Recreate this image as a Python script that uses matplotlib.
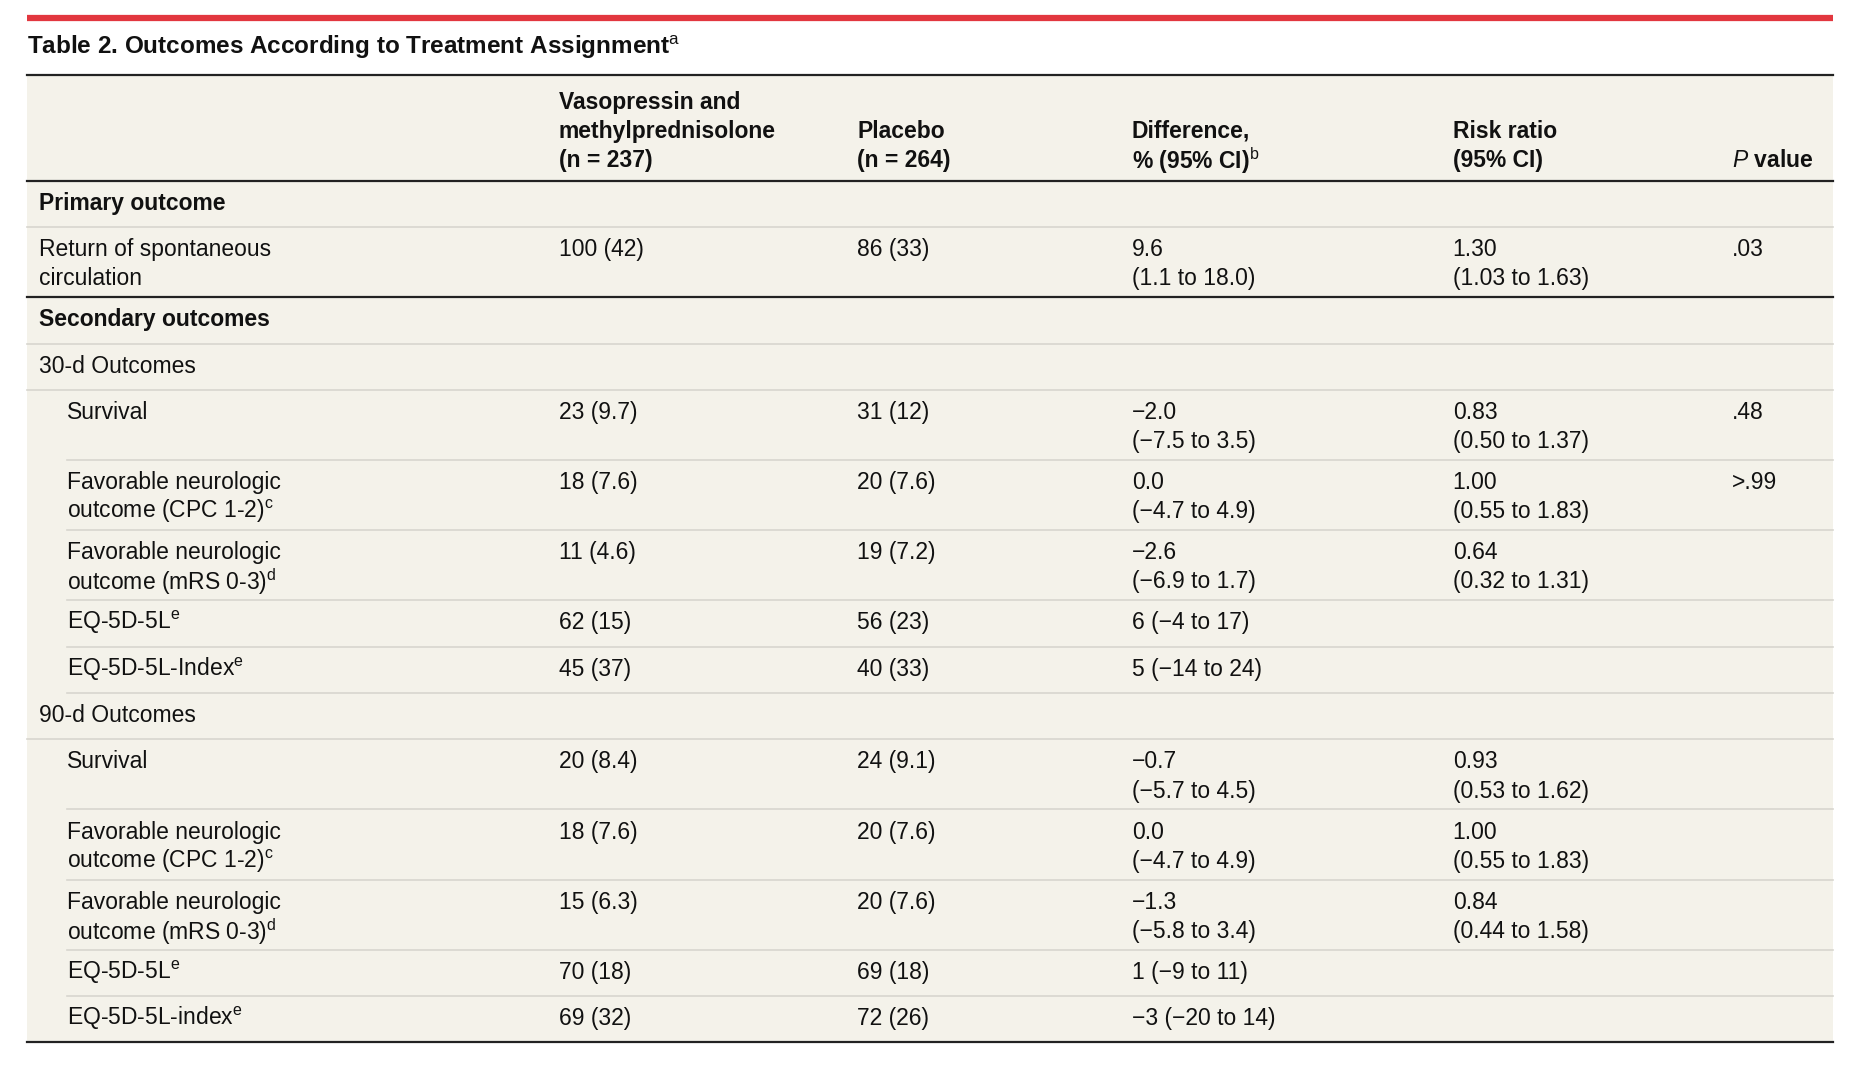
import matplotlib.pyplot as plt
from matplotlib import font_manager

names = {f.name for f in font_manager.fontManager.ttflist}
FAMILY = "Liberation Sans Narrow" if "Liberation Sans Narrow" in names else "Liberation Sans"
plt.rcParams["font.family"] = [FAMILY, "DejaVu Sans"]
plt.rcParams["mathtext.fontset"] = "custom"
plt.rcParams["mathtext.rm"] = FAMILY
plt.rcParams["mathtext.it"] = FAMILY + ":italic"

W, H = 1568, 912

title = r"Table 2. Outcomes According to Treatment Assignment$^{\mathrm{a}}$"
headers = [
    ["Vasopressin and", "methylprednisolone", "(n = 237)"],
    ["Placebo", "(n = 264)"],
    ["Difference,", r"% (95% CI)$^{\mathrm{b}}$"],
    ["Risk ratio", "(95% CI)"],
    [r"$\mathit{P}$ value"],
]

# (label lines, indent level, bold, values per column, rule below: 'thin'/'thick')
rows = [
    (["Primary outcome"], 0, True, ["", "", "", "", ""], "thin"),
    (["Return of spontaneous", "circulation"], 0, False,
     ["100 (42)", "86 (33)", "9.6\n(1.1 to 18.0)", "1.30\n(1.03 to 1.63)", ".03"], "thick"),
    (["Secondary outcomes"], 0, True, ["", "", "", "", ""], "thin"),
    (["30-d Outcomes"], 0, False, ["", "", "", "", ""], "thin"),
    (["Survival"], 1, False,
     ["23 (9.7)", "31 (12)", "−2.0\n(−7.5 to 3.5)", "0.83\n(0.50 to 1.37)", ".48"], "thin"),
    (["Favorable neurologic", r"outcome (CPC 1-2)$^{\mathrm{c}}$"], 1, False,
     ["18 (7.6)", "20 (7.6)", "0.0\n(−4.7 to 4.9)", "1.00\n(0.55 to 1.83)", ">.99"], "thin"),
    (["Favorable neurologic", r"outcome (mRS 0-3)$^{\mathrm{d}}$"], 1, False,
     ["11 (4.6)", "19 (7.2)", "−2.6\n(−6.9 to 1.7)", "0.64\n(0.32 to 1.31)", ""], "thin"),
    ([r"EQ-5D-5L$^{\mathrm{e}}$"], 1, False,
     ["62 (15)", "56 (23)", "6 (−4 to 17)", "", ""], "thin"),
    ([r"EQ-5D-5L-Index$^{\mathrm{e}}$"], 1, False,
     ["45 (37)", "40 (33)", "5 (−14 to 24)", "", ""], "thin"),
    (["90-d Outcomes"], 0, False, ["", "", "", "", ""], "thin"),
    (["Survival"], 1, False,
     ["20 (8.4)", "24 (9.1)", "−0.7\n(−5.7 to 4.5)", "0.93\n(0.53 to 1.62)", ""], "thin"),
    (["Favorable neurologic", r"outcome (CPC 1-2)$^{\mathrm{c}}$"], 1, False,
     ["18 (7.6)", "20 (7.6)", "0.0\n(−4.7 to 4.9)", "1.00\n(0.55 to 1.83)", ""], "thin"),
    (["Favorable neurologic", r"outcome (mRS 0-3)$^{\mathrm{d}}$"], 1, False,
     ["15 (6.3)", "20 (7.6)", "−1.3\n(−5.8 to 3.4)", "0.84\n(0.44 to 1.58)", ""], "thin"),
    ([r"EQ-5D-5L$^{\mathrm{e}}$"], 1, False,
     ["70 (18)", "69 (18)", "1 (−9 to 11)", "", ""], "thin"),
    ([r"EQ-5D-5L-index$^{\mathrm{e}}$"], 1, False,
     ["69 (32)", "72 (26)", "−3 (−20 to 14)", "", ""], "thick"),
]

col_x = [470, 721, 952, 1222, 1457]
left, right = 23, 1542
fs = 16.5
line_h = 24.5

fig = plt.figure(figsize=(18.64, 10.84), dpi=100)
ax = fig.add_axes([0, 0, 1, 1])
ax.set_xlim(0, W)
ax.set_ylim(H, 0)
ax.axis("off")

# red band and title
ax.plot([left, right], [15, 15], color="#e2373f", lw=4.5, solid_capstyle="butt")
ax.text(left, 40, title, fontsize=17.5, fontweight="bold", va="center", ha="left", color="#111")

header_top, header_bot = 63, 152
row_tops = [152]
for r in rows:
    n = max(len(r[0]), max(v.count("\n") + 1 for v in r[3]))
    row_tops.append(row_tops[-1] + (39 if n == 1 else 59))
bottom = row_tops[-1]

ax.add_patch(plt.Rectangle((left, header_top), right - left, bottom - header_top,
                           facecolor="#f4f2ea", edgecolor="none", zorder=0))
ax.plot([left, right], [header_top, header_top], color="#222", lw=1.6)
ax.plot([left, right], [header_bot, header_bot], color="#222", lw=1.6)

for x, lines in zip(col_x, headers):
    n = len(lines)
    for i, s in enumerate(lines):
        y = 135 - (n - 1 - i) * line_h
        ax.text(x, y, s, fontsize=fs, fontweight="bold", va="center", ha="left", color="#111")

for (labels, indent, bold, vals, rule), top, bot in zip(rows, row_tops[:-1], row_tops[1:]):
    lx = 33 + indent * 23
    for i, s in enumerate(labels):
        ax.text(lx, top + 19 + i * line_h, s, fontsize=fs, va="center", ha="left",
                fontweight="bold" if bold else "normal", color="#111")
    for x, v in zip(col_x, vals):
        for i, s in enumerate(v.split("\n")):
            if s:
                ax.text(x, top + 19 + i * line_h, s, fontsize=fs, va="center", ha="left", color="#111")
    if rule == "thick":
        ax.plot([left, right], [bot, bot], color="#222", lw=1.6)
    else:
        x0 = 56 if indent else left
        ax.plot([x0, right], [bot, bot], color="#d8d6cf", lw=1.2)

fig.savefig("out.png", dpi=100, facecolor="white")
